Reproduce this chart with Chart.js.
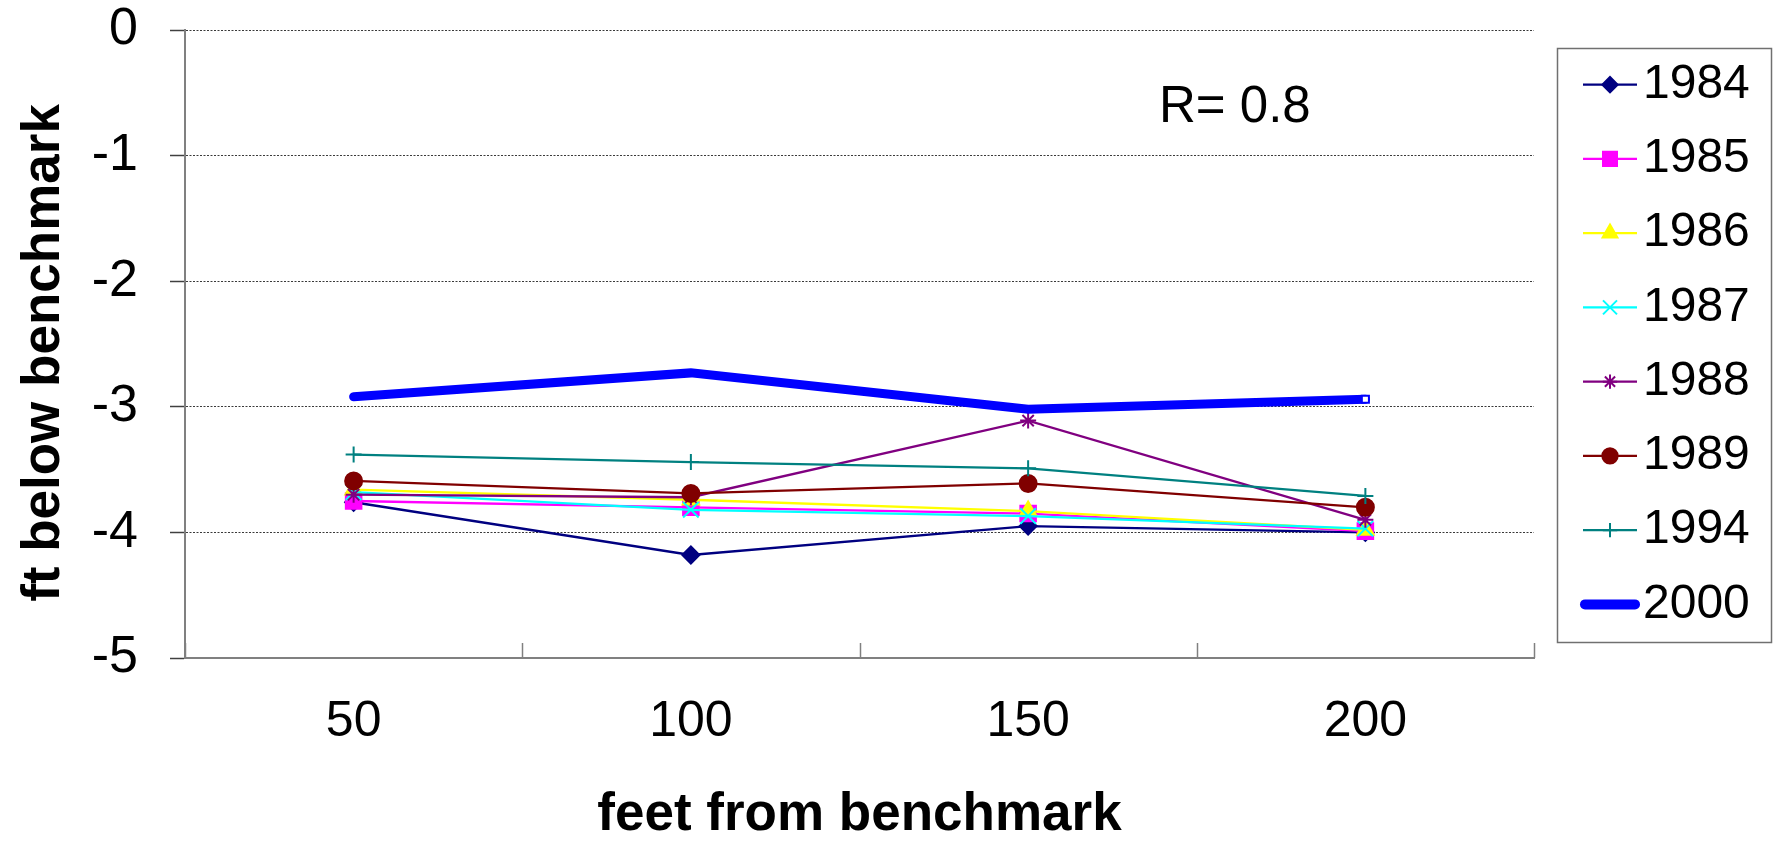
<!DOCTYPE html>
<html>
<head>
<meta charset="utf-8">
<script src="https://cdn.jsdelivr.net/npm/chart.js@4/dist/chart.umd.min.js"></script>
<style>
  html, body { margin: 0; padding: 0; background: #fff; }
  #wrap { width: 1779px; height: 842px; }
</style>
</head>
<body>
<div id="wrap"><canvas id="chart" width="1779" height="842"></canvas></div>
<script>
// Distance categories along the x axis
const distances = ['50', '100', '150', '200'];

// Depth below benchmark (ft) per survey year
const years = ['1984', '1985', '1986', '1987', '1988', '1989', '1994', '2000'];
const depth1984 = [-3.76, -4.18, -3.95, -4.00];
const depth1985 = [-3.75, -3.80, -3.85, -3.99];
const depth1986 = [-3.66, -3.74, -3.83, -3.98];
const depth1987 = [-3.68, -3.82, -3.87, -3.97];
const depth1988 = [-3.70, -3.72, -3.11, -3.90];
const depth1989 = [-3.59, -3.69, -3.61, -3.80];
const depth1994 = [-3.38, -3.44, -3.49, -3.71];
const depth2000 = [-2.92, -2.73, -3.02, -2.94];
const seriesValues = [depth1984, depth1985, depth1986, depth1987, depth1988, depth1989, depth1994, depth2000];

// Value axis range and step
const yMin = -5;
const yMax = 0;
const yStep = 1;

const annotationText = 'R= 0.8';
const xTitle = 'feet from benchmark';
const yTitle = 'ft below benchmark';

// Series styling
const colors = ['#000080', '#FF00FF', '#FFFF00', '#00FFFF', '#800080', '#800000', '#008080', '#0000FF'];
const markers = ['rectRot', 'rect', 'triangle', 'crossRot', 'star', 'circle', 'cross', 'rect'];
const markerRadius = [8.5, 11, 9.5, 11, 8, 8.5, 8, 0];
const lineWidths = [2.3, 2.3, 2.3, 2.3, 2.3, 2.3, 2.3, 9];

const FONT = '"Liberation Sans", Arial, Helvetica, sans-serif';

const datasets = years.map((y, i) => {
  const isThick = i === years.length - 1;
  const n = seriesValues[i].length;
  return {
    label: y,
    data: seriesValues[i],
    borderColor: colors[i],
    backgroundColor: colors[i],
    borderWidth: lineWidths[i],
    borderCapStyle: isThick ? 'round' : 'butt',
    pointStyle: markers[i],
    pointRadius: isThick ? seriesValues[i].map((_, k) => (k === n - 1 ? 5 : 0)) : markerRadius[i],
    pointBackgroundColor: isThick ? '#ffffff' : colors[i],
    pointBorderColor: colors[i],
    pointBorderWidth: 2,
    pointHoverRadius: 0,
    tension: 0,
    fill: false,
    order: years.length - i
  };
});

// Inward tick marks on the category axis at the category boundaries
const categoryTicks = {
  id: 'categoryTicks',
  afterDatasetsDraw(chart) {
    const xs = chart.scales.x;
    const ctx = chart.ctx;
    const bottom = chart.chartArea.bottom;
    ctx.save();
    ctx.strokeStyle = '#808080';
    ctx.lineWidth = 1.5;
    for (let i = 0; i <= distances.length; i++) {
      const px = Math.round(xs.getPixelForValue(i - 0.5)) + 0.5;
      ctx.beginPath();
      ctx.moveTo(px, bottom);
      ctx.lineTo(px, bottom - 15);
      ctx.stroke();
    }
    ctx.restore();
  }
};

// Value-axis title, correlation note inside the plot and the boxed series key at the right
const notesAndKey = {
  id: 'notesAndKey',
  afterDraw(chart) {
    const ctx = chart.ctx;
    const area = chart.chartArea;
    ctx.save();

    // rotated value-axis title, a little below the plot's vertical centre
    ctx.save();
    ctx.translate(44, (area.top + area.bottom) / 2 + 9);
    ctx.rotate(-Math.PI / 2);
    ctx.fillStyle = '#000';
    ctx.font = 'bold 53px ' + FONT;
    ctx.textAlign = 'center';
    ctx.textBaseline = 'middle';
    ctx.fillText(yTitle, 0, 0);
    ctx.restore();

    ctx.fillStyle = '#000';
    ctx.font = '51px ' + FONT;
    ctx.textAlign = 'left';
    ctx.textBaseline = 'alphabetic';
    ctx.fillText(annotationText, area.left + (area.right - area.left) * 0.722, area.top + 92);

    const boxL = area.right + 23;
    const boxT = 48;
    const boxR = chart.width - 8;
    const boxB = 642;
    ctx.strokeStyle = '#707070';
    ctx.lineWidth = 1.5;
    ctx.strokeRect(boxL + 0.5, boxT + 0.5, boxR - boxL, boxB - boxT);

    const rowH = (boxB - boxT) / years.length;
    const lineL = boxL + 26;
    const lineR = boxL + 80;
    const mid = (lineL + lineR) / 2;
    chart.data.datasets.forEach((ds, i) => {
      const cy = boxT + rowH * (i + 0.5) - 0.5;
      const thick = i === years.length - 1;
      ctx.save();
      ctx.strokeStyle = ds.borderColor;
      ctx.lineWidth = thick ? 10 : 2.3;
      ctx.lineCap = thick ? 'round' : 'butt';
      ctx.beginPath();
      ctx.moveTo(thick ? lineL + 2 : lineL, cy);
      ctx.lineTo(thick ? lineR - 2 : lineR, cy);
      ctx.stroke();
      if (!thick) {
        ctx.fillStyle = ds.backgroundColor;
        ctx.strokeStyle = ds.borderColor;
        ctx.lineWidth = 2;
        Chart.helpers.drawPoint(ctx, {
          pointStyle: ds.pointStyle,
          radius: markerRadius[i] * 0.9,
          rotation: 0,
          borderWidth: 2
        }, mid, cy);
      }
      ctx.restore();
      ctx.fillStyle = '#000';
      ctx.font = '48px ' + FONT;
      ctx.textBaseline = 'middle';
      ctx.textAlign = 'left';
      ctx.fillText(ds.label, lineR + 6, cy);
    });
    ctx.restore();
  }
};

new Chart(document.getElementById('chart'), {
  type: 'line',
  data: { labels: distances, datasets },
  options: {
    responsive: false,
    animation: false,
    devicePixelRatio: 1,
    layout: { autoPadding: false, padding: { top: 30, right: 245, left: 0, bottom: 0 } },
    plugins: { legend: { display: false }, tooltip: { enabled: false } },
    elements: { line: { borderJoinStyle: 'miter' } },
    scales: {
      x: {
        type: 'category',
        offset: true,
        grid: { display: true, drawOnChartArea: false, drawTicks: false },
        border: { display: true, color: '#808080', width: 2 },
        ticks: {
          color: '#000',
          padding: 39,
          maxRotation: 0,
          autoSkip: false,
          font: { family: FONT, size: 50, lineHeight: 1 }
        },
        title: {
          display: true,
          text: xTitle,
          color: '#000',
          padding: { top: 0, bottom: 0 },
          font: { family: FONT, size: 53, weight: 'bold', lineHeight: 1 }
        },
        afterFit(scale) { scale.height = 184; }
      },
      y: {
        min: yMin,
        max: yMax,
        grid: {
          color: '#3a3a3a',
          lineWidth: 1,
          tickLength: 15,
          tickColor: '#404040',
          tickWidth: 1.5,
          tickBorderDash: []
        },
        border: { display: true, color: '#808080', width: 2, dash: [2, 1.5] },
        ticks: {
          stepSize: yStep,
          color: '#000',
          padding: 32,
          font: { family: FONT, size: 52, lineHeight: 1.2 }
        },
        title: { display: false },
        afterFit(scale) {
          scale.width = 185;
          scale.paddingTop = 0;
          scale.paddingBottom = 0;
        }
      }
    }
  },
  plugins: [categoryTicks, notesAndKey]
});
</script>
</body>
</html>
